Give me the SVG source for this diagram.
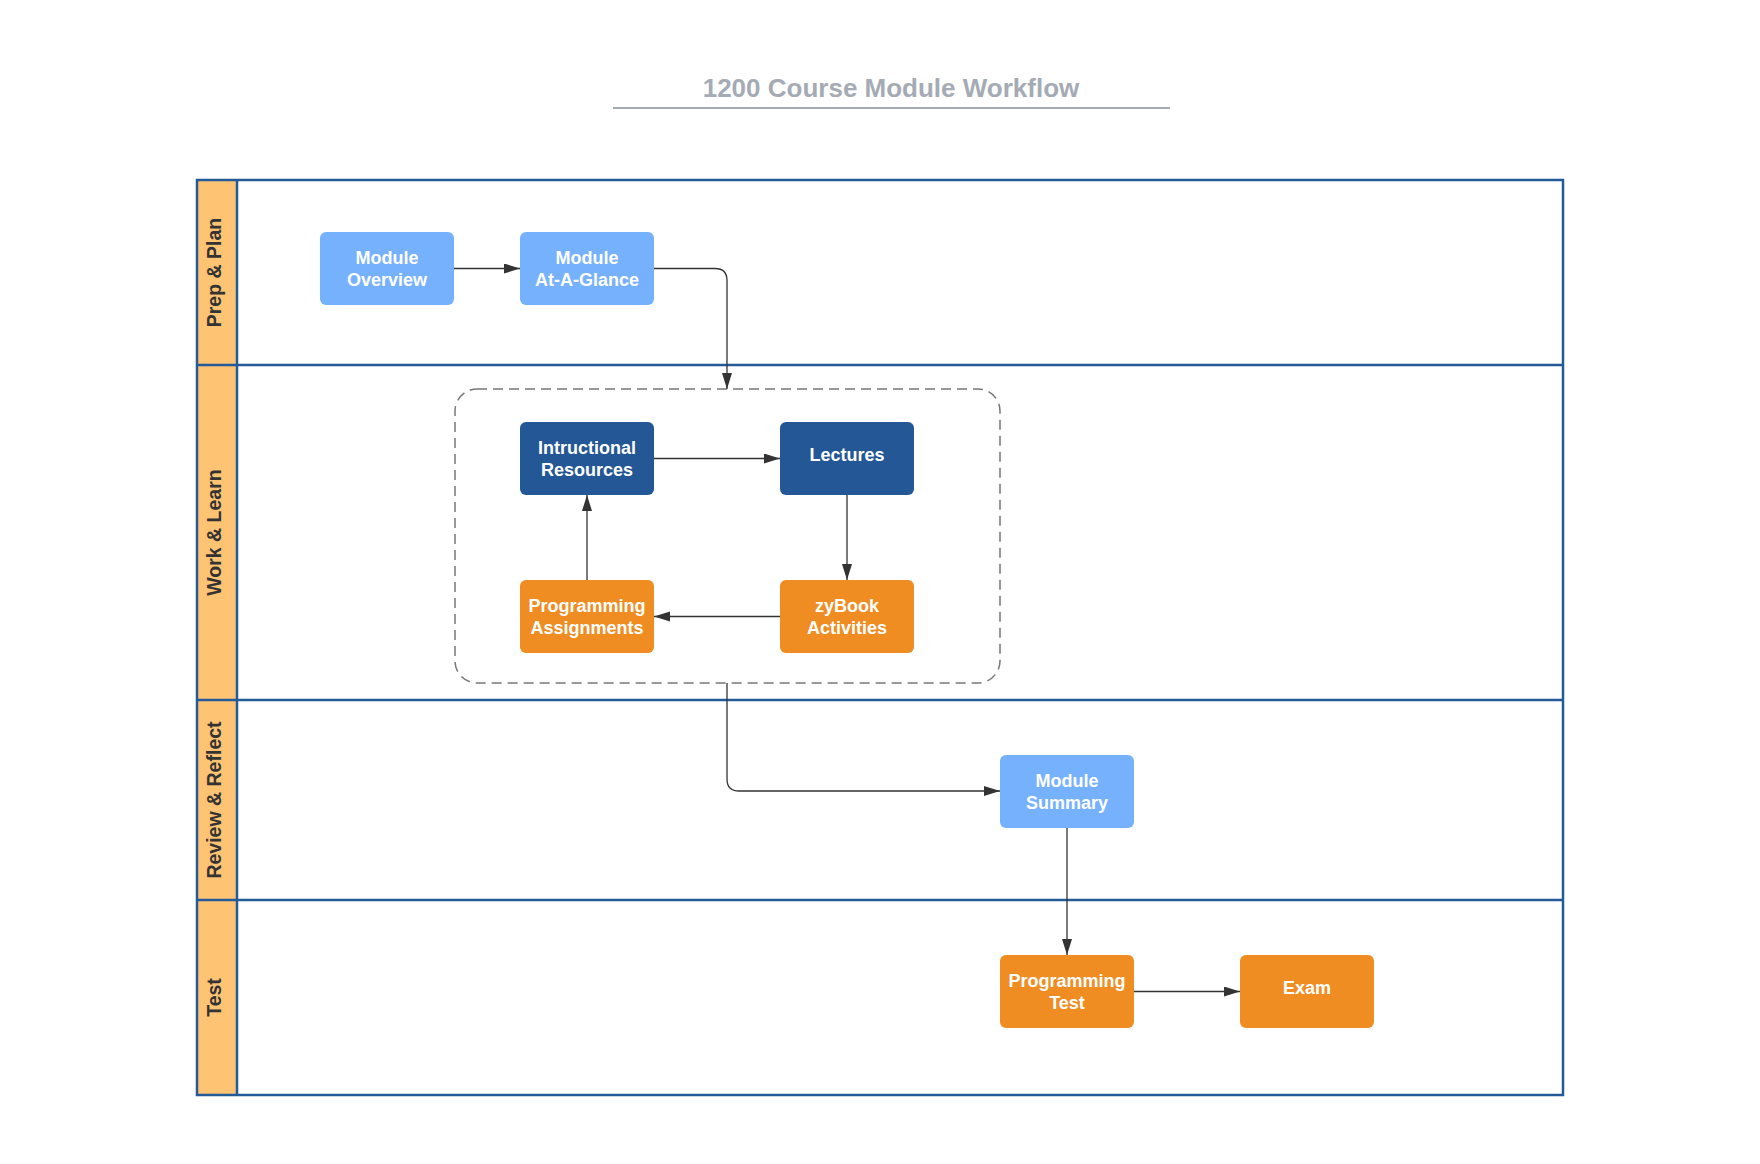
<svg xmlns="http://www.w3.org/2000/svg" width="1760" height="1164" viewBox="0 0 1760 1164">
<style>
.lanebox{fill:none;stroke:#255a99;stroke-width:2.5}
.hdr{fill:#ffc374}
.lanet{font-family:"Liberation Sans",Arial,sans-serif;font-weight:bold;font-size:19.5px;fill:#333333;text-anchor:middle}
.nt{font-family:"Liberation Sans",Arial,sans-serif;font-weight:bold;font-size:18px;fill:#ffffff;text-anchor:middle}
.light{fill:#76b1fe}
.dark{fill:#245795}
.orange{fill:#ef8d22}
.conn{fill:none;stroke:#333333;stroke-width:1.3}
</style>
<defs>
<marker id="arr" markerUnits="userSpaceOnUse" markerWidth="17" markerHeight="11" refX="16" refY="5" orient="auto">
<path d="M0,0 L16,5 L0,10 z" fill="#333333"/>
</marker>
</defs>
<rect width="1760" height="1164" fill="#ffffff"/>
<g id="title">
<text x="891" y="97" font-family="'Liberation Sans',Arial,sans-serif" font-weight="bold" font-size="26" fill="#a5abb5" text-anchor="middle">1200 Course Module Workflow</text>
<line x1="613" y1="108" x2="1170" y2="108" stroke="#a5abb5" stroke-width="2"/>
</g>
<g id="lanes">
<rect class="hdr" x="197" y="180" width="40" height="915"/>
<rect class="lanebox" x="197" y="180" width="1366" height="915"/>
<line class="lanebox" x1="237" y1="180" x2="237" y2="1095"/>
<line class="lanebox" x1="197" y1="365" x2="1563" y2="365"/>
<line class="lanebox" x1="197" y1="700" x2="1563" y2="700"/>
<line class="lanebox" x1="197" y1="900" x2="1563" y2="900"/>
<text class="lanet" x="221" y="272.5" transform="rotate(-90 221 272.5)">Prep &amp; Plan</text>
<text class="lanet" x="221" y="532.5" transform="rotate(-90 221 532.5)">Work &amp; Learn</text>
<text class="lanet" x="221" y="800" transform="rotate(-90 221 800)">Review &amp; Reflect</text>
<text class="lanet" x="221" y="997.5" transform="rotate(-90 221 997.5)">Test</text>
</g>
<g id="group-work">
<rect x="455" y="389" width="545" height="294" rx="22" ry="22" fill="none" stroke="#777777" stroke-width="1.5" stroke-dasharray="10,6"/>
</g>
<g id="connectors">
<path class="conn" d="M454,268.5 H520" marker-end="url(#arr)"/>
<path class="conn" d="M654,268.5 H715 Q727,268.5 727,280.5 V389" marker-end="url(#arr)"/>
<path class="conn" d="M654,458.5 H780" marker-end="url(#arr)"/>
<path class="conn" d="M847,495 V580" marker-end="url(#arr)"/>
<path class="conn" d="M780,616.5 H654" marker-end="url(#arr)"/>
<path class="conn" d="M587,580 V495" marker-end="url(#arr)"/>
<path class="conn" d="M727,683 V779 Q727,791 739,791 H1000" marker-end="url(#arr)"/>
<path class="conn" d="M1067,828 V955" marker-end="url(#arr)"/>
<path class="conn" d="M1134,991.5 H1240" marker-end="url(#arr)"/>
</g>
<g id="node-module-overview">
<rect class="light" x="320" y="232" width="134" height="73" rx="6"/>
<text class="nt" x="387" y="264">Module</text>
<text class="nt" x="387" y="286">Overview</text>
</g>
<g id="node-module-at-a-glance">
<rect class="light" x="520" y="232" width="134" height="73" rx="6"/>
<text class="nt" x="587" y="264">Module</text>
<text class="nt" x="587" y="286">At-A-Glance</text>
</g>
<g id="node-intructional-resources">
<rect class="dark" x="520" y="422" width="134" height="73" rx="6"/>
<text class="nt" x="587" y="454">Intructional</text>
<text class="nt" x="587" y="476">Resources</text>
</g>
<g id="node-lectures">
<rect class="dark" x="780" y="422" width="134" height="73" rx="6"/>
<text class="nt" x="847" y="461">Lectures</text>
</g>
<g id="node-programming-assignments">
<rect class="orange" x="520" y="580" width="134" height="73" rx="6"/>
<text class="nt" x="587" y="612">Programming</text>
<text class="nt" x="587" y="634">Assignments</text>
</g>
<g id="node-zybook-activities">
<rect class="orange" x="780" y="580" width="134" height="73" rx="6"/>
<text class="nt" x="847" y="612">zyBook</text>
<text class="nt" x="847" y="634">Activities</text>
</g>
<g id="node-module-summary">
<rect class="light" x="1000" y="755" width="134" height="73" rx="6"/>
<text class="nt" x="1067" y="787">Module</text>
<text class="nt" x="1067" y="809">Summary</text>
</g>
<g id="node-programming-test">
<rect class="orange" x="1000" y="955" width="134" height="73" rx="6"/>
<text class="nt" x="1067" y="986.5">Programming</text>
<text class="nt" x="1067" y="1008.5">Test</text>
</g>
<g id="node-exam">
<rect class="orange" x="1240" y="955" width="134" height="73" rx="6"/>
<text class="nt" x="1307" y="994">Exam</text>
</g>
</svg>
